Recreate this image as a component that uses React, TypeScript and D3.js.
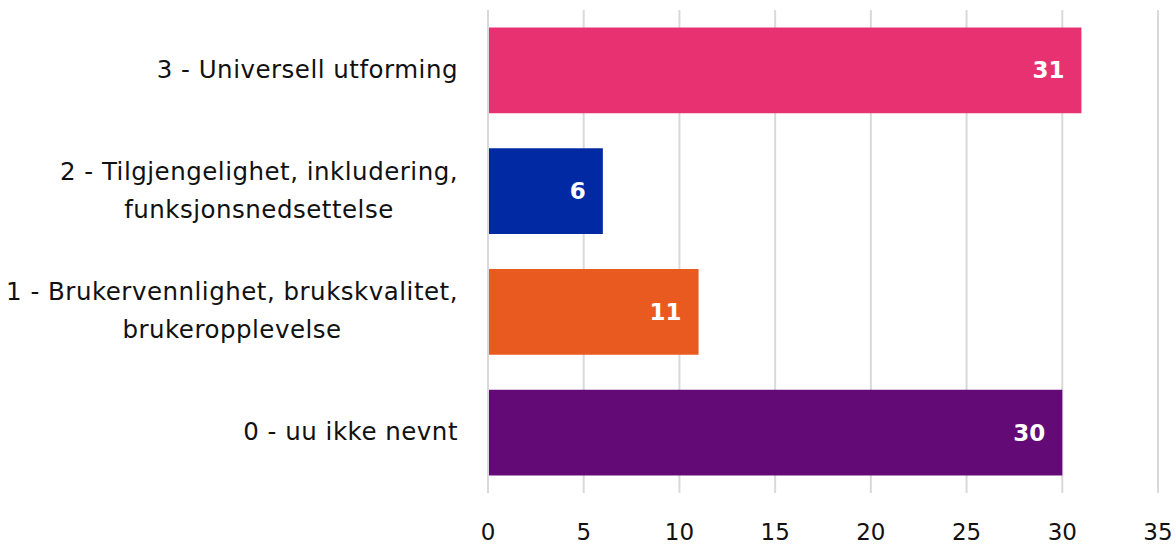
import React, { useEffect, useRef } from "react";
import * as d3 from "d3";

const categories = [
  ["3 - Universell utforming"],
  ["2 - Tilgjengelighet, inkludering,", "funksjonsnedsettelse"],
  ["1 - Brukervennlighet, brukskvalitet,", "brukeropplevelse"],
  ["0 - uu ikke nevnt"],
];
const values = [31, 6, 11, 30];
const colors = ["#E83171", "#0029A3", "#E95A20", "#630A76"];
const ticks = [0, 5, 10, 15, 20, 25, 30, 35];

const W = 1176;
const H = 546;
const FONT = "'DejaVu Sans', sans-serif";

export default function App() {
  const ref = useRef<SVGSVGElement>(null);
  useEffect(() => {
    const svg = d3.select(ref.current);
    svg.selectAll("*").remove();
    const x = d3.scaleLinear().domain([0, 35]).range([488, 1158]);
    const y = d3
      .scaleBand<number>()
      .domain(d3.range(categories.length))
      .range([10, 493])
      .paddingInner(0.29)
      .paddingOuter(0.145);

    svg
      .append("g")
      .selectAll("line")
      .data(ticks)
      .join("line")
      .attr("x1", (d) => x(d))
      .attr("x2", (d) => x(d))
      .attr("y1", 10)
      .attr("y2", 493)
      .attr("stroke", "#d9d9d9")
      .attr("stroke-width", 2);

    svg
      .append("g")
      .selectAll("rect")
      .data(values)
      .join("rect")
      .attr("x", x(0) + 1)
      .attr("y", (_, i) => y(i)!)
      .attr("width", (d) => x(d) - x(0) - 1)
      .attr("height", y.bandwidth())
      .attr("fill", (_, i) => colors[i]);

    svg
      .append("g")
      .selectAll("text")
      .data(values)
      .join("text")
      .attr("x", (d) => x(d) - 17)
      .attr("y", (_, i) => y(i)! + y.bandwidth() / 2 + 8)
      .attr("text-anchor", "end")
      .attr("fill", "#fff")
      .attr("font-family", FONT)
      .attr("font-weight", 700)
      .attr("font-size", 23)
      .text((d) => String(d));

    const cg = svg.append("g");
    categories.forEach((lines, i) => {
      const c = y(i)! + y.bandwidth() / 2;
      const g = cg.append("g");
      const texts = lines.map((ln, j) =>
        g
          .append("text")
          .attr("y", c + 7.5 + (j - (lines.length - 1) / 2) * 38)
          .attr("text-anchor", "middle")
          .attr("fill", "#111")
          .attr("font-family", FONT)
          .attr("font-size", 24.5)
          .attr("letter-spacing", 0.5)
          .text(ln)
      );
      const maxW =
        d3.max(texts, (t) => (t.node() as SVGTextElement).getComputedTextLength()) || 0;
      texts.forEach((t) => t.attr("x", 458 - maxW / 2));
    });

    svg
      .append("g")
      .selectAll("text")
      .data(ticks)
      .join("text")
      .attr("x", (d) => x(d))
      .attr("y", 540)
      .attr("text-anchor", "middle")
      .attr("fill", "#111")
      .attr("font-family", FONT)
      .attr("font-size", 23)
      .text((d) => String(d));
  }, []);

  return (
    <svg
      ref={ref}
      width={W}
      height={H}
      style={{ position: "absolute", left: 0, top: 0, background: "#fff" }}
    />
  );
}
